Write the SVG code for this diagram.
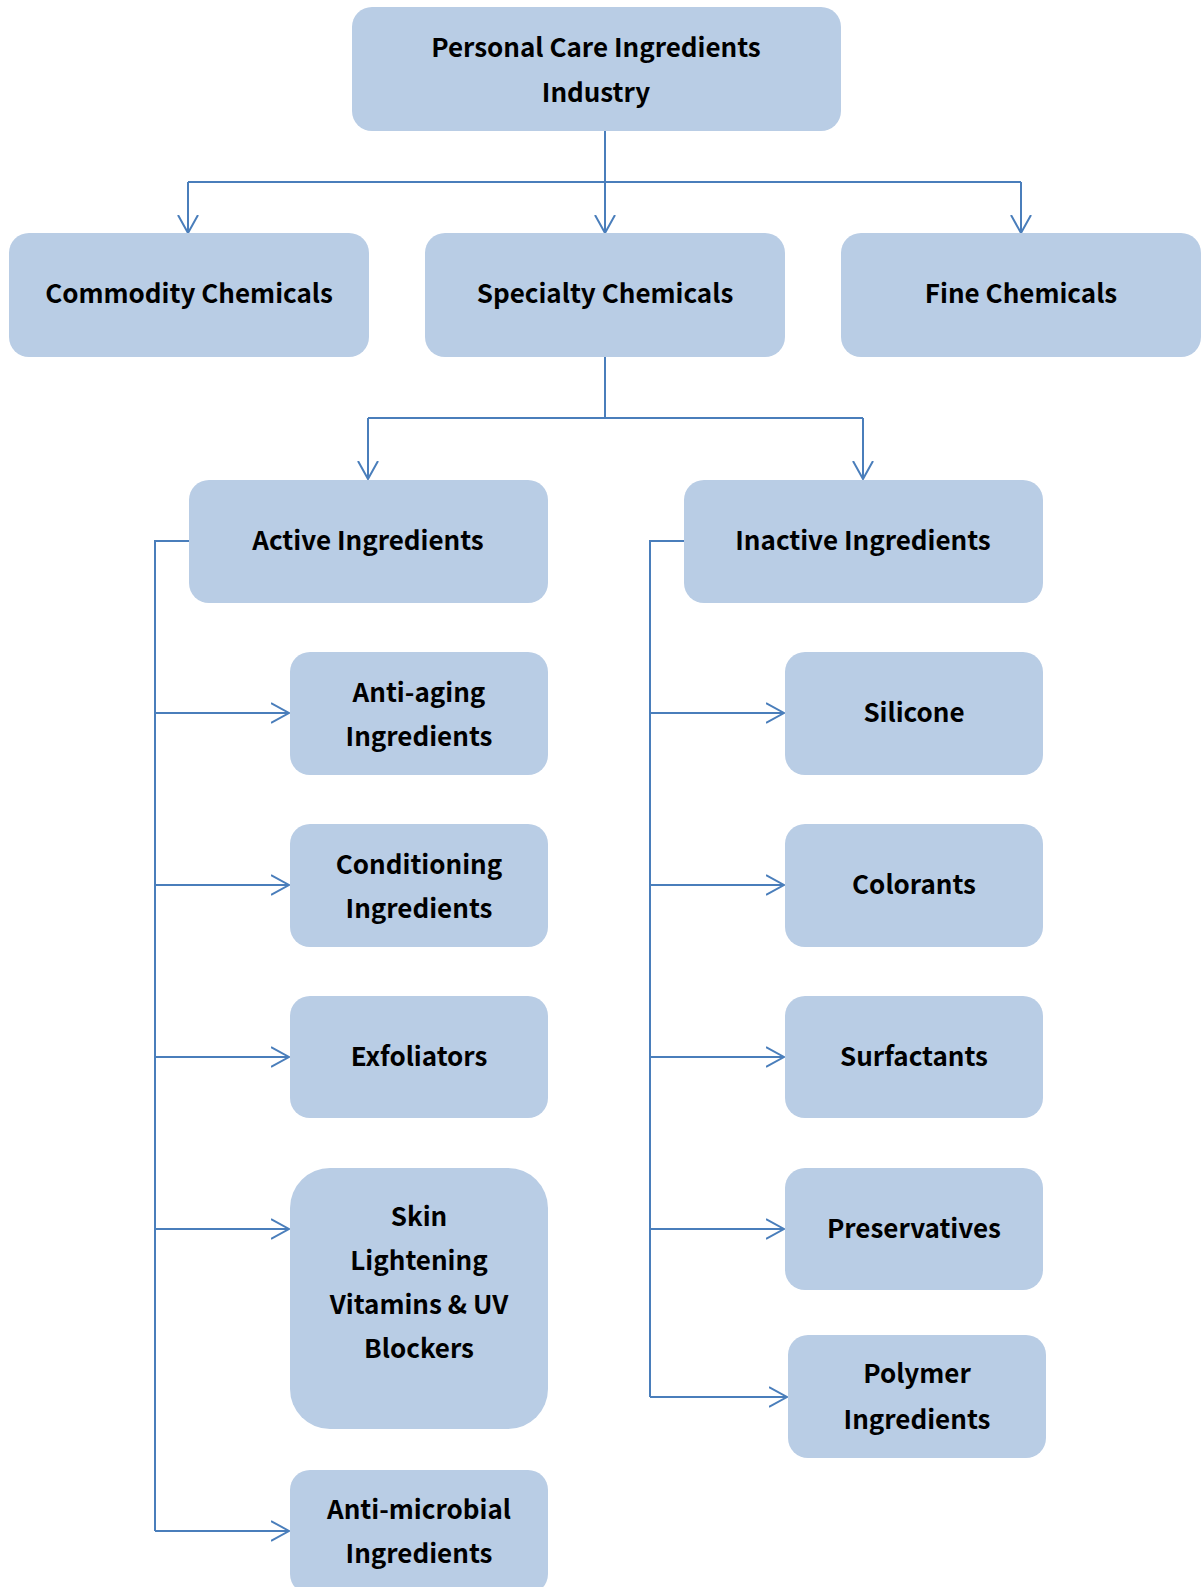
<svg xmlns="http://www.w3.org/2000/svg" width="1203" height="1587" viewBox="0 0 1203 1587">
<defs>
<style>
.box{fill:#B9CDE5;}
.t{font-family:"Noto Sans CJK JP","Noto Sans",sans-serif;font-weight:bold;font-size:26px;fill:#000;text-anchor:middle;}
.c{fill:none;stroke:#4A7EBB;stroke-width:2;}
</style>
<marker id="ar" markerWidth="20" markerHeight="24" refX="18" refY="11" orient="auto" markerUnits="userSpaceOnUse" viewBox="0 0 20 22">
<path d="M0,1 L18,11 L0,21" fill="none" stroke="#4A7EBB" stroke-width="2"/>
</marker>
</defs>
<rect width="1203" height="1587" fill="#fff"/>
<g id="connectors">
<path class="c" d="M605,131 V182"/>
<path class="c" d="M188,182 H1021"/>
<path class="c" d="M188,182 V233" marker-end="url(#ar)"/>
<path class="c" d="M605,182 V233" marker-end="url(#ar)"/>
<path class="c" d="M1021,182 V233" marker-end="url(#ar)"/>
<path class="c" d="M605,357 V418 M368,418 H863"/>
<path class="c" d="M368,418 V479" marker-end="url(#ar)"/>
<path class="c" d="M863,418 V479" marker-end="url(#ar)"/>
<path class="c" d="M189,541 H155 V1531"/>
<path class="c" d="M155,713 H289" marker-end="url(#ar)"/>
<path class="c" d="M155,885 H289" marker-end="url(#ar)"/>
<path class="c" d="M155,1057 H289" marker-end="url(#ar)"/>
<path class="c" d="M155,1229 H289" marker-end="url(#ar)"/>
<path class="c" d="M155,1531 H289" marker-end="url(#ar)"/>
<path class="c" d="M684,541 H650 V1397"/>
<path class="c" d="M650,713 H784" marker-end="url(#ar)"/>
<path class="c" d="M650,885 H784" marker-end="url(#ar)"/>
<path class="c" d="M650,1057 H784" marker-end="url(#ar)"/>
<path class="c" d="M650,1229 H784" marker-end="url(#ar)"/>
<path class="c" d="M650,1397 H787" marker-end="url(#ar)"/>
</g>
<g id="root"><rect class="box" x="352" y="7" width="489" height="124" rx="20"/><text class="t" x="596" y="57">Personal Care Ingredients</text><text class="t" x="596" y="102">Industry</text></g>
<g id="commodity"><rect class="box" x="9" y="233" width="360" height="124" rx="20"/><text class="t" x="189" y="303">Commodity Chemicals</text></g>
<g id="specialty"><rect class="box" x="425" y="233" width="360" height="124" rx="20"/><text class="t" x="605" y="303">Specialty Chemicals</text></g>
<g id="fine"><rect class="box" x="841" y="233" width="360" height="124" rx="20"/><text class="t" x="1021" y="303">Fine Chemicals</text></g>
<g id="active"><rect class="box" x="189" y="480" width="359" height="123" rx="20"/><text class="t" x="368" y="550">Active Ingredients</text></g>
<g id="inactive"><rect class="box" x="684" y="480" width="359" height="123" rx="20"/><text class="t" x="863" y="550">Inactive Ingredients</text></g>
<g id="antiaging"><rect class="box" x="290" y="652" width="258" height="123" rx="20"/><text class="t" x="419" y="702">Anti-aging</text><text class="t" x="419" y="746">Ingredients</text></g>
<g id="conditioning"><rect class="box" x="290" y="824" width="258" height="123" rx="20"/><text class="t" x="419" y="874">Conditioning</text><text class="t" x="419" y="918">Ingredients</text></g>
<g id="exfoliators"><rect class="box" x="290" y="996" width="258" height="122" rx="20"/><text class="t" x="419" y="1066">Exfoliators</text></g>
<g id="skin"><rect class="box" x="290" y="1168" width="258" height="261" rx="40"/><text class="t" x="419" y="1226">Skin</text><text class="t" x="419" y="1270">Lightening</text><text class="t" x="419" y="1314">Vitamins &amp; UV</text><text class="t" x="419" y="1358">Blockers</text></g>
<g id="antimicrobial"><rect class="box" x="290" y="1470" width="258" height="124" rx="20"/><text class="t" x="419" y="1519">Anti-microbial</text><text class="t" x="419" y="1563">Ingredients</text></g>
<g id="silicone"><rect class="box" x="785" y="652" width="258" height="123" rx="20"/><text class="t" x="914" y="722">Silicone</text></g>
<g id="colorants"><rect class="box" x="785" y="824" width="258" height="123" rx="20"/><text class="t" x="914" y="894">Colorants</text></g>
<g id="surfactants"><rect class="box" x="785" y="996" width="258" height="122" rx="20"/><text class="t" x="914" y="1066">Surfactants</text></g>
<g id="preservatives"><rect class="box" x="785" y="1168" width="258" height="122" rx="20"/><text class="t" x="914" y="1238">Preservatives</text></g>
<g id="polymer"><rect class="box" x="788" y="1335" width="258" height="123" rx="20"/><text class="t" x="917" y="1383">Polymer</text><text class="t" x="917" y="1429">Ingredients</text></g>
</svg>
